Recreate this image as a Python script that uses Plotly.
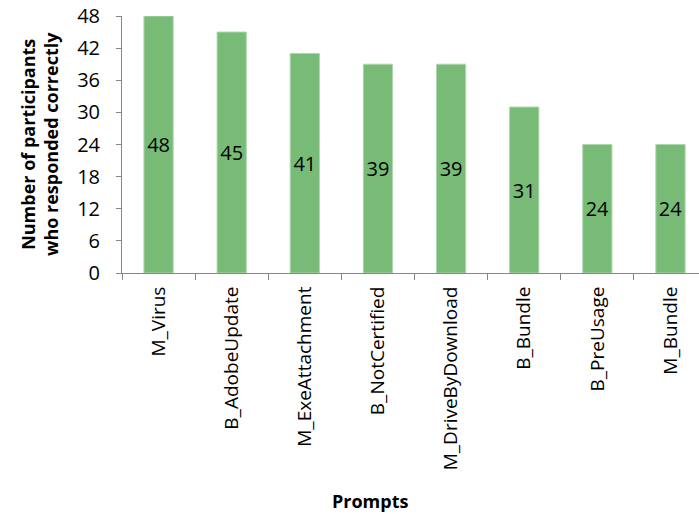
import plotly.graph_objects as go

categories = ["M_Virus", "B_AdobeUpdate", "M_ExeAttachment", "B_NotCertified",
              "M_DriveByDownload", "B_Bundle", "B_PreUsage", "M_Bundle"]
values = [48, 45, 41, 39, 39, 31, 24, 24]
y_ticks = [0, 6, 12, 18, 24, 30, 36, 42, 48]

FONT = "Open Sans"

W, H = 699, 514
pl, pr, pt, pb = 122, 0, 16, 241
pw, ph = W - pl - pr, H - pt - pb


def px_to_paper(px, py):
    return (px - pl) / pw, (H - pb - py) / ph


fig = go.Figure(go.Bar(
    x=categories, y=values,
    text=[str(v) for v in values],
    textposition="inside", insidetextanchor="middle",
    textfont=dict(family=FONT, size=20, color="black"),
    marker=dict(color="rgb(119,187,119)", line=dict(color="rgb(175,215,175)", width=1)),
    width=0.4,
))

ax, ay = px_to_paper(39, 144)
bx, by = px_to_paper(370, 501)

fig.update_layout(
    width=W, height=H,
    margin=dict(l=pl, r=pr, t=pt, b=pb),
    plot_bgcolor="white", paper_bgcolor="white",
    showlegend=False,
    font=dict(family=FONT, color="black"),
    xaxis=dict(
        type="category", range=[-0.5, 7.39],
        showline=True, linecolor="#868686", linewidth=1,
        ticks="outside", tickson="boundaries", ticklen=6, tickcolor="#868686",
        tickangle=-90, tickfont=dict(family=FONT, size=19),
        ticklabelstandoff=5,
        showgrid=False,
    ),
    yaxis=dict(
        range=[0, 48], tickvals=y_ticks,
        showline=True, linecolor="#868686", linewidth=1,
        ticks="outside", ticklen=5, tickcolor="#868686",
        tickfont=dict(family=FONT, size=20),
        ticklabelstandoff=12,
        showgrid=False, zeroline=False,
    ),
    annotations=[
        dict(text="<b>Number of participants<br>who responded correctly</b>",
             x=ax, y=ay, xref="paper", yref="paper",
             xanchor="center", yanchor="middle", textangle=-90, showarrow=False,
             font=dict(family=FONT, size=18)),
        dict(text="<b>Prompts</b>", x=bx, y=by, xref="paper", yref="paper",
             xanchor="center", yanchor="middle",
             showarrow=False, font=dict(family=FONT, size=18)),
    ],
)
fig.write_html("out.html")
